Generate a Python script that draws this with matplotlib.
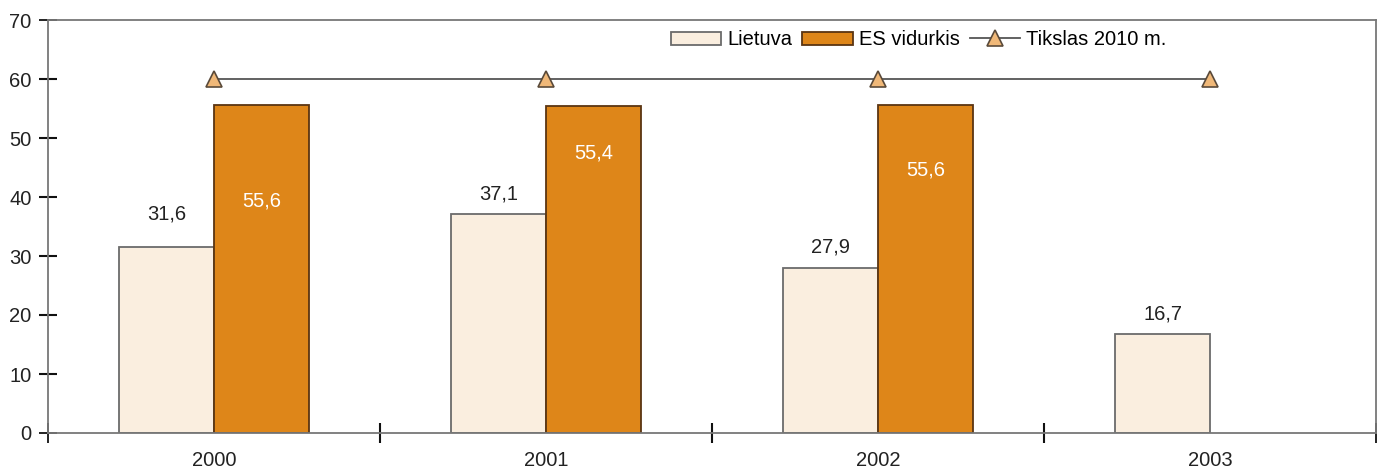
import matplotlib.pyplot as plt
import numpy as np

plt.rcParams['font.family'] = ['Liberation Sans', 'DejaVu Sans']

years = ['2000', '2001', '2002', '2003']
lietuva = [31.6, 37.1, 27.9, 16.7]
es_vid = [55.6, 55.4, 55.6, None]
tikslas = [60, 60, 60, 60]

# label offsets (px) - as in the original, not uniform
lt_dy = [33, 20, 21, 20]
es_dy = [-96, -47, -65, 0]

x = np.arange(len(years))
w = 0.286
fs = 14.5

fig = plt.figure(figsize=(13.82, 4.68), dpi=100)
ax = fig.add_axes([48/1382, 35/468, 1328/1382, 413/468])

b1 = ax.bar(x - w/2, lietuva, w, color='#FAEEDF', edgecolor='#6b6b6b', lw=1.3, label='Lietuva', zorder=2)
es_x = [xi + w/2 for xi, v in zip(x, es_vid) if v is not None]
es_v = [v for v in es_vid if v is not None]
b2 = ax.bar(es_x, es_v, w, color='#DE8619', edgecolor='#5a3512', lw=1.3, label='ES vidurkis', zorder=2)
l1, = ax.plot(x, tikslas, color='#555555', lw=1.3, marker='^', ms=11, mfc='#F0B878', mec='#5a4a3a',
              mew=1.2, label='Tikslas 2010 m.', zorder=3)

for xi, v, d in zip(x, lietuva, lt_dy):
    ax.annotate(f'{v:.1f}'.replace('.', ','), (xi - w/2, v), xytext=(0, d), textcoords='offset pixels',
                ha='center', va='center', fontsize=fs, color='#222222')
for xi, v, d in zip(x, es_vid, es_dy):
    if v is None:
        continue
    ax.annotate(f'{v:.1f}'.replace('.', ','), (xi + w/2, v), xytext=(0, d), textcoords='offset pixels',
                ha='center', va='center', fontsize=fs, color='white')

ax.set_xlim(-0.5, 3.5)
ax.set_ylim(0, 70)
ax.set_yticks(range(0, 71, 10))
ax.set_xticks(x)
ax.set_xticklabels(years)
ax.set_xticks([-0.5, 0.5, 1.5, 2.5, 3.5], minor=True)

for s in ax.spines.values():
    s.set_color('#777777')
    s.set_linewidth(1.3)

ax.tick_params(axis='y', direction='inout', length=12.5, width=1.5, color='#111111', pad=5.5,
               labelsize=fs, labelcolor='#222222')
ax.tick_params(axis='x', which='major', length=0, pad=13, labelsize=fs, labelcolor='#222222')
ax.tick_params(axis='x', which='minor', direction='inout', length=15, width=1.5, color='#111111')
mt = ax.xaxis.get_minor_ticks()
for i in (0, 4):
    mt[i].tick1line.set_color('#777777')
    mt[i].tick1line.set_markeredgewidth(1.3)
yt = ax.yaxis.get_major_ticks()
for i in (0, 7):
    yt[i].tick1line.set_color('#777777')
    yt[i].tick1line.set_markeredgewidth(1.3)

ax.legend([b1, b2, l1], ['Lietuva', 'ES vidurkis', 'Tikslas 2010 m.'],
          loc='center left', bbox_to_anchor=(0.469, 0.952), ncol=3, frameon=False, fontsize=fs,
          handlelength=2.5, handleheight=0.65, columnspacing=0.5, handletextpad=0.3,
          borderaxespad=0, borderpad=0)

fig.savefig('out.png', dpi=100)
